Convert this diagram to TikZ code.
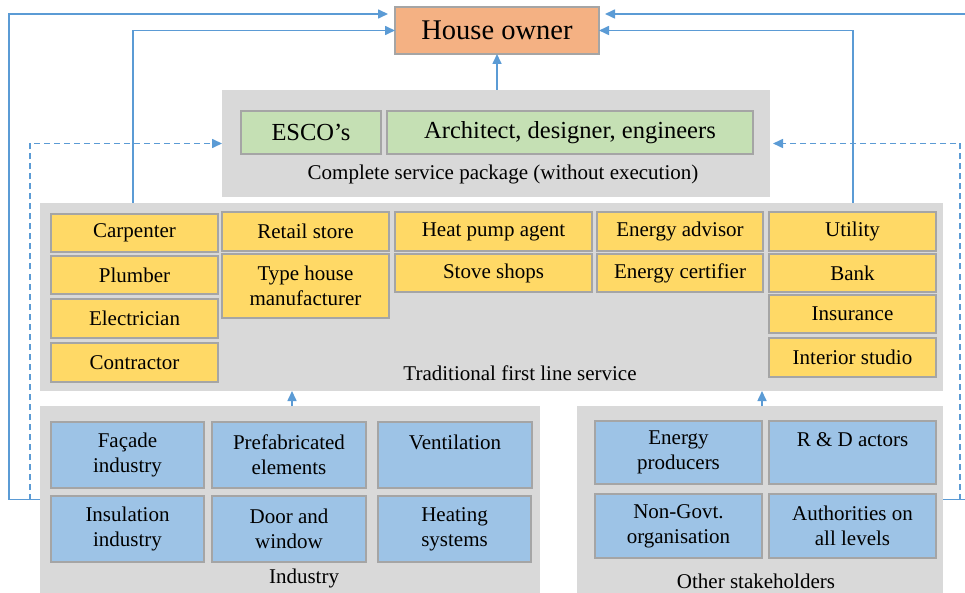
\documentclass[tikz,border=0pt]{standalone}
\usepackage{fontspec}
\setmainfont{Liberation Serif}
\usetikzlibrary{arrows.meta,calc}
\definecolor{lineblue}{HTML}{5B9BD5}
\definecolor{panel}{HTML}{D9D9D9}
\definecolor{yfill}{HTML}{FFD966}
\definecolor{gfill}{HTML}{C5E0B4}
\definecolor{bfill}{HTML}{9DC3E6}
\definecolor{ofill}{HTML}{F4B183}
\definecolor{edgegray}{HTML}{A5A5A5}
\newcommand\placebox[7]{\node[#1, minimum width={#4-#2}, minimum height={#5-#3}] (#6) at ({(#2+#4)/2},{(#3+#5)/2}) {#7};}
\begin{document}
\begin{tikzpicture}[x=1pt,y=-1pt,
 panelbox/.style={fill=panel, draw=none, inner sep=0, outer sep=0},
 item/.style={draw=edgegray, line width=1.2pt, inner sep=0, outer sep=0, align=center, font=\fontsize{21}{25}\selectfont},
 yitem/.style={item, fill=yfill},
 gitem/.style={item, fill=gfill, font=\fontsize{24.5}{28}\selectfont},
 bitem/.style={item, fill=bfill},
 oitem/.style={item, fill=ofill, font=\fontsize{28.5}{32}\selectfont},
 lbl/.style={inner sep=0, font=\fontsize{21}{25}\selectfont},
 conn/.style={draw=lineblue, line width=1.6pt, -{Triangle[length=10pt,width=9pt]}},
 dconn/.style={conn, dash pattern=on 6pt off 4pt},
 plain/.style={draw=lineblue, line width=1.6pt}]
\useasboundingbox (0,0) rectangle (965,593);

% panels
\placebox{panelbox}{222}{90}{770}{197}{pkg}{}
\placebox{panelbox}{40}{203}{943}{391}{trad}{}
\placebox{panelbox}{40}{406}{540}{593}{ind}{}
\placebox{panelbox}{577}{406}{943}{593}{oth}{}

% owner
\placebox{oitem}{395}{7}{599}{54}{owner}{House owner}

% package
\placebox{gitem}{241}{111}{381}{154}{esco}{ESCO’s}
\placebox{gitem}{387}{111}{753}{154}{arch}{Architect, designer, engineers}
\node[lbl] (pkglbl) at (503,174) {Complete service package (without execution)};

% traditional
\placebox{yitem}{51}{214}{218}{252}{carp}{Carpenter}
\placebox{yitem}{51}{256}{218}{294}{plumb}{Plumber}
\placebox{yitem}{51}{299}{218}{338}{elec}{Electrician}
\placebox{yitem}{51}{343}{218}{382}{contr}{Contractor}
\placebox{yitem}{222}{212}{389}{251}{retail}{Retail store}
\placebox{yitem}{222}{254}{389}{318}{typeh}{Type house\\manufacturer}
\placebox{yitem}{395}{212}{592}{251}{heatp}{Heat pump agent}
\placebox{yitem}{395}{254}{592}{292}{stove}{Stove shops}
\placebox{yitem}{597}{212}{763}{251}{eadv}{Energy advisor}
\placebox{yitem}{597}{254}{763}{292}{ecert}{Energy certifier}
\placebox{yitem}{769}{212}{936}{251}{util}{Utility}
\placebox{yitem}{769}{254}{936}{292}{bank}{Bank}
\placebox{yitem}{769}{295}{936}{333}{insur}{Insurance}
\placebox{yitem}{769}{338}{936}{377}{inter}{Interior studio}
\node[lbl] (tradlbl) at (520,373) {Traditional first line service};

% industry
\placebox{bitem}{51}{422}{204}{488}{facade}{Façade\\industry}
\placebox{bitem}{212}{422}{366}{488}{prefab}{Prefabricated\\elements}
\placebox{bitem}{378}{422}{532}{488}{vent}{Ventilation\\\mbox{}}
\placebox{bitem}{51}{496}{204}{562}{insul}{Insulation\\industry}
\placebox{bitem}{212}{496}{366}{562}{door}{Door and\\window}
\placebox{bitem}{378}{496}{531}{562}{heat}{Heating\\systems}
\node[lbl] (indlbl) at (304,578) {Industry};

% other stakeholders
\placebox{bitem}{595}{421}{762}{484}{eprod}{Energy\\producers}
\placebox{bitem}{769}{421}{936}{484}{rnd}{R \& D actors\\\mbox{}}
\placebox{bitem}{595}{494}{762}{558}{ngo}{Non-Govt.\\organisation}
\placebox{bitem}{769}{494}{936}{558}{auth}{Authorities on\\all levels}
\node[lbl] (othlbl) at (756,581) {Other stakeholders};

% helper coordinates
\coordinate (lc) at (9,499.5);
\coordinate (dl) at (30,499.5);
\coordinate (rc) at (975,499.5);
\coordinate (dr) at (960,499.5);
\coordinate (ownerL) at ($(owner.north west)+(-7,7)$);
\coordinate (ownerR) at ($(owner.north east)+(6,7)$);

% connectors
\draw[conn] (pkg.north -| owner.south) -- (owner.south);
\draw[conn] ($(trad.north west)+(93,0)$) |- (owner.west);
\draw[conn] ($(trad.north east)+(-90,0)$) |- (owner.east);
\draw[conn] ($(ind.north west)+(252,0)$) -- ($(trad.south west)+(252,0)$);
\draw[conn] ($(oth.north west)+(185,0)$) -- ($(trad.south west)+(722,0)$);
\draw[plain] (ind.west) -- (lc);
\draw[conn] (lc) |- (ownerL);
\draw[plain] (oth.east) -- (rc);
\draw[conn] (rc) |- (ownerR);
\draw[dconn] (dl) |- (pkg.west);
\draw[dconn] (dr) |- ($(pkg.east)+(3,0)$);
\end{tikzpicture}
\end{document}
